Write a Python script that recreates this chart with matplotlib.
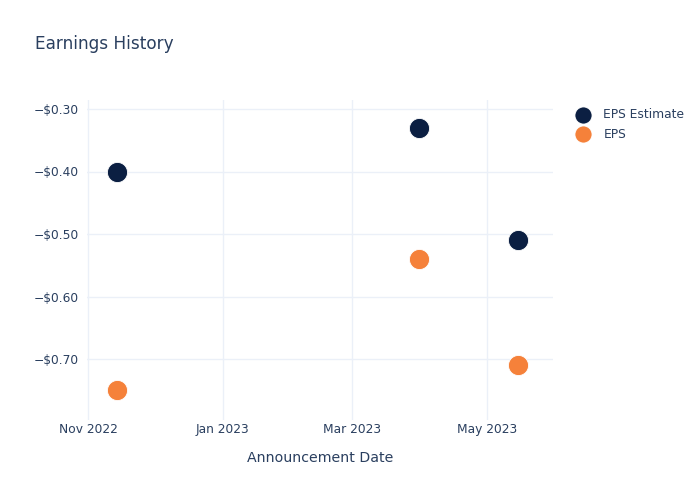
import matplotlib.pyplot as plt
import matplotlib.dates as mdates
from matplotlib.ticker import FuncFormatter, MultipleLocator
import numpy as np
import datetime as dt

# data
dates = [dt.date(2022, 11, 14), dt.date(2023, 3, 31), dt.date(2023, 5, 15)]
eps_estimate = [-0.40, -0.33, -0.51]
eps_actual = [-0.75, -0.54, -0.71]

text_col = '#2a3f5f'
grid_col = '#ebf0f8'
navy = '#0b1f42'
orange = '#f5813a'

plt.rcParams['font.family'] = 'DejaVu Sans'

fig = plt.figure(figsize=(7, 5), dpi=100)
ax = fig.add_axes([87 / 700, 80 / 500, (553 - 87) / 700, 320 / 500])

ax.scatter(dates, eps_estimate, s=210, color=navy, edgecolors='white', linewidths=0.6,
           label='EPS Estimate', zorder=3)
ax.scatter(dates, eps_actual, s=210, color=orange, edgecolors='white', linewidths=0.6,
           label='EPS', zorder=3)

ax.set_xlim(mdates.date2num(dt.date(2022, 10, 31)) + 0.5, mdates.date2num(dt.date(2023, 5, 31)))
ax.set_ylim(-0.7976, -0.2856)

ax.xaxis.set_major_locator(mdates.MonthLocator(bymonth=[1, 3, 5, 11]))
ax.xaxis.set_major_formatter(mdates.DateFormatter('%b %Y'))
ax.yaxis.set_major_locator(MultipleLocator(0.1))
ax.yaxis.set_major_formatter(FuncFormatter(lambda v, p: ('\u2212' if v < 0 else '') + '${:.2f}'.format(abs(v))))

ax.grid(True, color=grid_col, linewidth=1)
ax.set_axisbelow(True)
for s in ax.spines.values():
    s.set_visible(False)
ax.tick_params(length=0, colors=text_col, labelsize=8.8, pad=6)
ax.tick_params(axis='x', pad=2)

ax.set_xlabel('Announcement Date', color=text_col, fontsize=10.2, labelpad=11)

fig.text(35 / 700, 1 - 44 / 500, 'Earnings History', color=text_col, fontsize=12.2, va='center')

leg = fig.legend(loc='upper left', bbox_to_anchor=(566 / 700, 1 - 103 / 500), frameon=False,
                 fontsize=8.8, labelcolor=text_col, handletextpad=0.65, labelspacing=0.55,
                 markerscale=0.85, borderaxespad=0)

fig.savefig('out.png', dpi=100, facecolor='white')
